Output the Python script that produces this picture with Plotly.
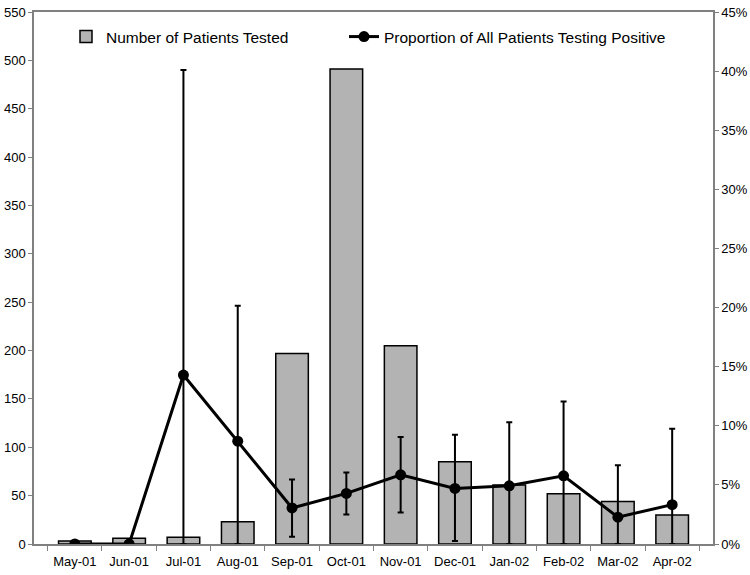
import plotly.graph_objects as go

months = ["May-01", "Jun-01", "Jul-01", "Aug-01", "Sep-01", "Oct-01",
          "Nov-01", "Dec-01", "Jan-02", "Feb-02", "Mar-02", "Apr-02"]
tested = [3, 6, 7, 23, 197, 491, 205, 85, 61, 52, 44, 30]
prop_pos = [0.0, 0.0, 0.1429, 0.087, 0.0305, 0.0428, 0.0585, 0.047, 0.0492, 0.0577, 0.0227, 0.0333]
ci_upper = [0.0, 0.0, 0.401, 0.2015, 0.0545, 0.0605, 0.0905, 0.0925, 0.103, 0.1206, 0.0666, 0.0975]
ci_lower = [0.0, 0.0, 0.0, 0.0, 0.0062, 0.025, 0.0267, 0.0025, 0.0, 0.0, 0.0, 0.0]

err_plus = [u - p for u, p in zip(ci_upper, prop_pos)]
err_minus = [p - l for p, l in zip(prop_pos, ci_lower)]

W, H = 750, 575
ML, MR, MT, MB = 34, 37, 12, 31
PW = W - ML - MR
PH = H - MT - MB

def px_x(x):
    return (x - ML) / PW

def px_y(y):
    return 1 - (y - MT) / PH

fig = go.Figure()
fig.add_trace(go.Bar(
    x=months, y=tested, name="Number of Patients Tested",
    marker=dict(color="#b3b3b3", line=dict(color="black", width=1.5)),
    width=0.6, yaxis="y", legend="legend",
))
fig.add_trace(go.Scatter(
    x=months, y=prop_pos, name="Proportion of All Patients Testing Positive",
    mode="lines+markers", yaxis="y2", legend="legend2",
    line=dict(color="black", width=3),
    marker=dict(color="black", size=11),
    error_y=dict(type="data", symmetric=False, array=err_plus, arrayminus=err_minus,
                 color="black", thickness=2, width=3),
))

axis_gray = "#808080"
tickfont = dict(size=13)
legfont = dict(size=15.5)
fig.update_layout(
    width=W, height=H,
    margin=dict(l=ML, r=MR, t=MT, b=MB),
    paper_bgcolor="white", plot_bgcolor="white",
    font=dict(family="Liberation Sans, Arial", size=13, color="black"),
    showlegend=True,
    legend=dict(x=px_x(66), y=px_y(20), xanchor="left", yanchor="top",
                font=legfont, bgcolor="rgba(0,0,0,0)"),
    legend2=dict(x=px_x(344), y=px_y(20), xanchor="left", yanchor="top",
                 font=legfont, bgcolor="rgba(0,0,0,0)"),
    xaxis=dict(type="category", showline=True, linecolor=axis_gray, linewidth=1.5,
               mirror=True, ticks="outside", tickson="boundaries", ticklen=5,
               ticklabelstandoff=5,
               tickcolor=axis_gray, showgrid=False, tickfont=tickfont, automargin=False),
    yaxis=dict(range=[0, 550], dtick=50, showline=True, linecolor=axis_gray, linewidth=1.5,
               ticks="outside", ticklen=4, tickcolor=axis_gray, showgrid=False,
               zeroline=False, tickfont=tickfont, automargin=False),
    yaxis2=dict(range=[0, 0.45], dtick=0.05, tickformat=".0%", overlaying="y", side="right",
                showline=True, linecolor=axis_gray, linewidth=1.5, ticks="outside", ticklen=4,
                tickcolor=axis_gray, showgrid=False, zeroline=False, tickfont=tickfont,
                automargin=False),
)

fig.write_html("out.html", config={"displayModeBar": False},
               post_script="document.body.style.margin='0px';")
